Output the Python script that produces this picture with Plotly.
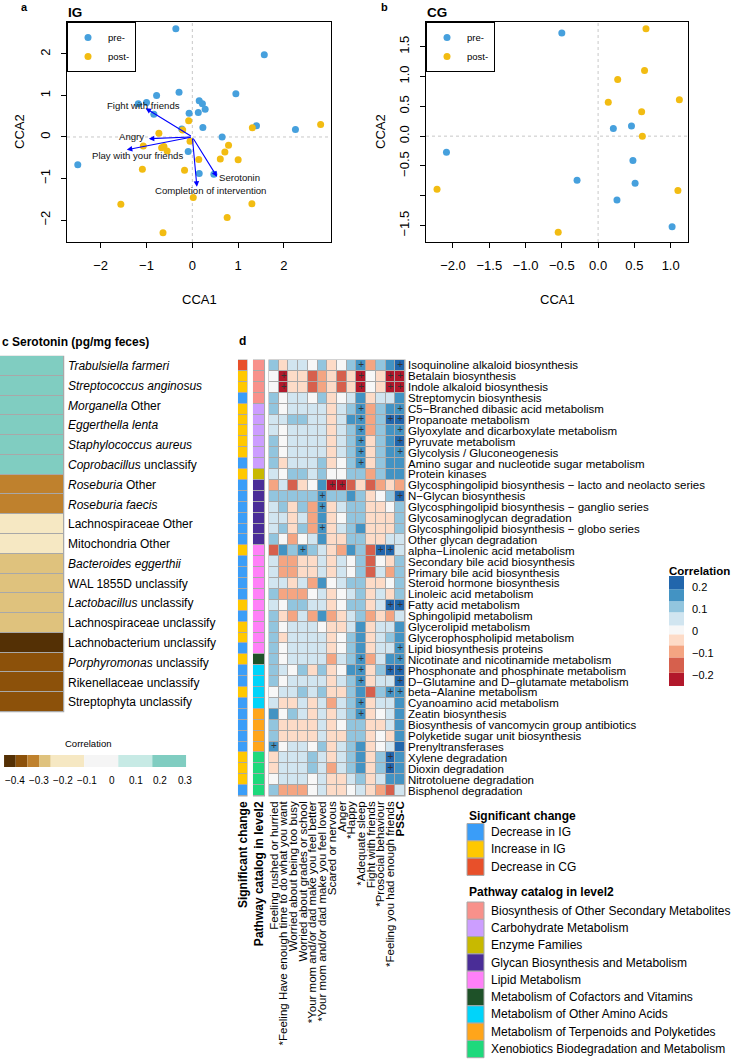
import plotly.graph_objects as go

W, H = 732, 1059
FONT = "Liberation Sans, Arial, Helvetica, sans-serif"


def px(x):
    return x / W


def py(y):
    return 1 - y / H


BLUE_PT = "#46A0DD"
GOLD_PT = "#F2BC12"

# ---------------- Panel a (IG) ----------------
ig_pre_x = [-1.67, -0.36, 1.57, -0.78, -0.29, -1.00, -1.18, -0.84, 0.15, 0.22, 0.28, -0.07,
            0.13, 0.23, 0.95, 1.40, 2.25, 0.65, -0.23, -0.09, 0.15, 0.47, -2.50]
ig_pre_y = [2.43, 2.61, 1.98, 1.00, 1.08, 0.83, 0.80, 0.55, 0.87, 0.80, 0.67, 0.57,
            0.59, 0.23, 1.04, 0.27, 0.18, 0.00, 0.19, -0.35, -0.88, -0.90, -0.67]
ig_post_x = [2.80, 1.31, -0.08, -0.21, -0.73, -1.07, -0.67, -0.62, -0.55, -0.05, 0.79, 0.71,
             0.14, 0.61, 1.00, -1.09, -0.17, 0.02, -1.56, 1.30, 0.76, -0.64]
ig_post_y = [0.30, 0.22, 0.39, 0.17, 0.09, -0.22, -0.26, -0.23, -0.34, -0.10, -0.20, -0.36,
             -0.54, -0.53, -0.55, -0.78, -0.80, -1.46, -1.62, -1.61, -1.94, -2.31]

env_names = ["Fight with friends", "Angry", "Play with your friends", "Serotonin",
             "Completion of intervention"]
env_x = [-1.02, -0.95, -1.43, 0.54, 0.10]
env_y = [0.69, -0.04, -0.31, -0.96, -1.20]
env_label_x = [-1.07, -1.32, -1.20, 1.04, 0.39]
env_label_y = [0.77, 0.02, -0.45, -0.98, -1.29]

# ---------------- Panel b (CG) ----------------
cg_pre_x = [-0.50, -1.97, -2.09, -0.29, 0.21, 0.46, 0.48, 0.51, 0.26, 1.02]
cg_pre_y = [1.73, 1.27, -0.27, -0.74, 0.13, 0.17, -0.41, -0.79, -1.07, -1.52]
cg_post_x = [0.66, 0.64, 0.27, 0.14, 1.12, 0.60, 0.61, -2.22, 1.10, -0.55]
cg_post_y = [1.80, 1.10, 0.95, 0.57, 0.61, 0.41, 0.00, -0.89, -0.91, -1.61]

# ---------------- Panel c ----------------
taxa = ["<i>Trabulsiella farmeri</i>", "<i>Streptococcus anginosus</i>", "<i>Morganella</i> Other",
        "<i>Eggerthella lenta</i>", "<i>Staphylococcus aureus</i>", "<i>Coprobacillus</i> unclassify",
        "<i>Roseburia</i> Other", "<i>Roseburia faecis</i>", "Lachnospiraceae Other",
        "Mitochondria Other", "<i>Bacteroides eggerthii</i>", "WAL 1855D unclassify",
        "<i>Lactobacillus</i> unclassify", "Lachnospiraceae unclassify", "Lachnobacterium unclassify",
        "<i>Porphyromonas</i> unclassify", "Rikenellaceae unclassify", "Streptophyta unclassify"]
sero_corr = [0.25, 0.24, 0.24, 0.23, 0.23, 0.22, -0.33, -0.32, -0.20, -0.19, -0.28, -0.27,
             -0.27, -0.26, -0.42, -0.37, -0.37, -0.36]
c_edges = [-0.443, -0.395, -0.347, -0.299, -0.251, -0.113, 0.027, 0.167, 0.306]
c_colors = ["#543005", "#8C510A", "#BF812D", "#DFC27D", "#F6E8C3", "#F5F5F5", "#C7EAE5", "#80CDC1"]
c_ticks = [-0.4, -0.3, -0.2, -0.1, 0, 0.1, 0.2, 0.3]
c_ticktext = ["−0.4", "−0.3", "−0.2", "−0.1", "0", "0.1", "0.2", "0.3"]

# ---------------- Panel d ----------------
pathways = ["Isoquinoline alkaloid biosynthesis", "Betalain biosynthesis", "Indole alkaloid biosynthesis",
            "Streptomycin biosynthesis", "C5−Branched dibasic acid metabolism", "Propanoate metabolism",
            "Glyoxylate and dicarboxylate metabolism", "Pyruvate metabolism",
            "Glycolysis / Gluconeogenesis", "Amino sugar and nucleotide sugar metabolism",
            "Protein kinases", "Glycosphingolipid biosynthesis − lacto and neolacto series",
            "N−Glycan biosynthesis", "Glycosphingolipid biosynthesis − ganglio series",
            "Glycosaminoglycan degradation", "Glycosphingolipid biosynthesis − globo series",
            "Other glycan degradation", "alpha−Linolenic acid metabolism",
            "Secondary bile acid biosynthesis", "Primary bile acid biosynthesis",
            "Steroid hormone biosynthesis", "Linoleic acid metabolism", "Fatty acid metabolism",
            "Sphingolipid metabolism", "Glycerolipid metabolism", "Glycerophospholipid metabolism",
            "Lipid biosynthesis proteins", "Nicotinate and nicotinamide metabolism",
            "Phosphonate and phosphinate metabolism", "D−Glutamine and D−glutamate metabolism",
            "beta−Alanine metabolism", "Cyanoamino acid metabolism", "Zeatin biosynthesis",
            "Biosynthesis of vancomycin group antibiotics", "Polyketide sugar unit biosynthesis",
            "Prenyltransferases", "Xylene degradation", "Dioxin degradation",
            "Nitrotoluene degradation", "Bisphenol degradation"]
variables = ["Feeling rushed or hurried", "*Feeling Have enough time to do what you want",
             "Worried about being too busy", "Worried about grades or school",
             "*Your mom and/or dad make you feel better", "*Your mom and/or dad make you feel loved",
             "Scared or nervous", "Anger", "*Happy", "*Adequate sleep", "Fight with friends",
             "*Prosocial behaviour", "*Feeling you had enough friends", "<b>PSS-C</b>"]
corr = [
    [0.11, -0.04, 0.05, 0.05, 0.00, 0.11, -0.04, 0.00, 0.11, 0.16, -0.09, 0.11, 0.16, 0.22],
    [0.00, -0.22, -0.04, -0.04, -0.15, -0.09, -0.04, -0.15, -0.04, -0.22, 0.00, -0.04, -0.22, -0.22],
    [0.00, -0.22, -0.04, -0.04, -0.15, -0.09, -0.04, -0.15, -0.03, -0.22, 0.00, -0.04, -0.22, -0.22],
    [0.11, 0.00, 0.05, 0.05, 0.00, 0.10, -0.04, 0.00, 0.05, 0.15, -0.04, 0.05, 0.06, 0.15],
    [0.10, 0.00, 0.05, 0.05, 0.05, 0.05, -0.04, 0.05, 0.10, 0.16, -0.08, 0.10, 0.15, 0.17],
    [0.06, 0.05, 0.10, 0.10, 0.05, 0.05, -0.04, 0.05, 0.15, 0.17, -0.08, 0.11, 0.21, 0.22],
    [0.05, 0.00, 0.05, 0.05, 0.05, 0.05, -0.04, 0.05, 0.11, 0.16, -0.08, 0.11, 0.16, 0.17],
    [0.10, 0.00, 0.05, 0.05, 0.05, 0.05, -0.04, 0.05, 0.11, 0.16, -0.05, 0.10, 0.16, 0.20],
    [0.10, 0.00, 0.05, 0.05, 0.05, 0.05, -0.04, 0.05, 0.11, 0.16, -0.05, 0.10, 0.16, 0.17],
    [0.10, -0.03, 0.05, 0.05, 0.05, 0.10, -0.04, 0.00, 0.10, 0.16, -0.04, 0.10, 0.15, 0.15],
    [0.05, 0.00, 0.10, 0.10, 0.05, 0.10, 0.00, 0.00, 0.10, 0.11, -0.08, 0.10, 0.16, 0.15],
    [-0.08, 0.05, -0.15, -0.04, 0.00, 0.15, -0.22, -0.22, -0.15, -0.04, -0.15, -0.09, -0.04, -0.08],
    [0.10, 0.10, 0.10, 0.10, 0.10, 0.16, 0.10, 0.10, 0.15, 0.11, -0.04, 0.00, 0.10, 0.21],
    [0.05, 0.10, -0.04, 0.10, -0.08, 0.16, -0.04, 0.05, 0.10, 0.11, -0.04, -0.04, 0.00, 0.10],
    [0.05, 0.05, -0.04, 0.05, -0.08, 0.15, -0.04, 0.00, 0.10, 0.10, -0.04, -0.04, -0.04, 0.10],
    [0.05, 0.10, -0.04, 0.10, -0.08, 0.16, -0.04, 0.05, 0.10, 0.15, -0.04, -0.04, -0.04, 0.10],
    [0.10, 0.00, -0.08, 0.00, 0.05, 0.15, -0.04, -0.04, 0.10, 0.10, -0.04, -0.04, 0.05, 0.05],
    [-0.15, 0.15, 0.10, 0.16, 0.10, 0.05, -0.04, -0.08, 0.15, 0.10, -0.15, 0.21, 0.21, 0.05],
    [0.05, -0.08, -0.08, -0.04, -0.04, 0.05, -0.04, 0.05, 0.00, 0.10, -0.15, 0.00, -0.04, 0.10],
    [0.05, -0.08, -0.08, -0.04, -0.04, 0.05, -0.04, 0.05, 0.00, 0.10, -0.15, 0.05, -0.08, 0.10],
    [0.05, 0.05, -0.04, 0.05, -0.08, 0.15, 0.00, 0.05, 0.10, 0.10, -0.04, -0.04, 0.00, 0.10],
    [0.10, -0.08, -0.08, -0.08, 0.00, 0.05, -0.04, 0.00, 0.05, 0.10, -0.04, 0.05, -0.04, 0.10],
    [0.05, 0.00, 0.10, 0.10, 0.05, 0.05, -0.04, 0.00, 0.10, 0.11, -0.04, 0.05, 0.21, 0.22],
    [0.10, -0.04, -0.08, 0.05, -0.08, 0.15, -0.08, -0.04, 0.05, 0.10, -0.08, -0.04, -0.08, 0.05],
    [0.10, 0.00, 0.05, 0.05, 0.05, 0.00, -0.04, -0.04, 0.05, 0.15, -0.04, 0.05, 0.05, 0.15],
    [0.10, -0.04, 0.05, 0.05, 0.05, 0.05, -0.04, 0.00, 0.10, 0.15, -0.04, 0.05, 0.10, 0.15],
    [0.10, 0.00, 0.05, 0.05, 0.05, 0.05, -0.04, 0.00, 0.10, 0.15, -0.04, 0.05, 0.05, 0.16],
    [0.10, 0.00, 0.05, 0.05, 0.05, 0.05, -0.08, 0.05, 0.10, 0.16, -0.08, 0.05, 0.15, 0.16],
    [0.10, 0.05, 0.00, 0.10, -0.04, 0.10, -0.04, 0.00, 0.15, 0.16, -0.04, 0.10, 0.21, 0.21],
    [0.10, 0.00, 0.05, 0.05, 0.05, 0.05, -0.04, 0.05, 0.10, 0.16, -0.04, 0.05, 0.05, 0.21],
    [0.00, 0.05, 0.05, 0.10, 0.05, 0.10, -0.04, -0.04, 0.10, 0.15, -0.15, 0.10, 0.16, 0.16],
    [0.05, -0.04, -0.04, 0.05, -0.04, 0.05, -0.08, 0.05, 0.10, 0.16, -0.04, 0.05, 0.05, 0.15],
    [0.15, 0.00, 0.10, 0.05, -0.04, 0.05, -0.04, 0.05, 0.10, 0.16, -0.04, 0.00, 0.05, 0.15],
    [0.10, -0.04, -0.04, -0.04, -0.04, 0.05, -0.04, 0.00, 0.10, 0.10, -0.04, -0.04, 0.05, 0.15],
    [0.10, -0.04, -0.04, -0.04, -0.04, 0.05, -0.04, -0.04, 0.10, 0.10, -0.04, 0.00, -0.04, 0.15],
    [0.16, 0.00, 0.05, 0.05, 0.00, 0.10, -0.04, 0.05, 0.10, 0.15, -0.04, 0.00, 0.05, 0.20],
    [-0.04, 0.05, 0.05, 0.05, 0.10, 0.05, -0.04, 0.05, 0.10, 0.15, -0.04, 0.10, 0.21, 0.15],
    [-0.04, 0.05, 0.05, 0.05, 0.10, 0.05, -0.08, 0.05, 0.10, 0.15, -0.04, 0.10, 0.21, 0.15],
    [0.00, 0.05, 0.05, 0.05, 0.00, 0.05, -0.04, -0.04, 0.05, 0.10, -0.04, 0.05, 0.15, 0.15],
    [0.10, -0.08, -0.08, -0.08, 0.00, 0.05, -0.04, -0.04, 0.00, 0.05, -0.04, -0.08, -0.15, 0.05],
]
plus_rows = [1, 1, 2, 2, 2, 2, 3, 3, 3, 3, 5, 5, 6, 6, 6, 7, 7, 8, 8, 9, 9, 10, 12, 12, 13, 13, 14,
             16, 18, 18, 18, 23, 23, 27, 28, 28, 29, 29, 29, 30, 30, 31, 31, 32, 33, 36, 37, 38]
plus_cols = [10, 14, 2, 10, 13, 14, 2, 10, 13, 14, 10, 14, 10, 13, 14, 10, 14, 10, 14, 10, 14, 10, 7, 8,
             6, 14, 6, 6, 4, 12, 13, 13, 14, 14, 10, 14, 10, 13, 14, 10, 14, 13, 14, 10, 10, 1, 13, 13]

d_edges = [-0.25, -0.19, -0.12, -0.065, -0.015, 0.025, 0.085, 0.135, 0.19, 0.25]
d_colors = ["#B2182B", "#D6604D", "#F4A582", "#FDDBC7", "#F7F7F7", "#D1E5F0", "#92C5DE", "#4393C3",
            "#2166AC"]
d_legend_ticks = [0.2, 0.1, 0.0, -0.1, -0.2]
d_legend_text = ["0.2", "0.1", "0", "−0.1", "−0.2"]

sig_levels = ["Decrease in IG", "Increase in IG", "Decrease in CG"]
sig_colors = ["#3A9DF8", "#FFC800", "#E8502A"]
sig_of_row = ["Decrease in CG", "Increase in IG", "Increase in IG", "Decrease in IG",
              "Increase in IG", "Increase in IG", "Increase in IG", "Increase in IG", "Increase in IG",
              "Decrease in IG", "Increase in IG", "Decrease in IG", "Decrease in IG", "Decrease in IG",
              "Decrease in IG", "Decrease in IG", "Decrease in IG", "Increase in IG", "Decrease in IG",
              "Decrease in IG", "Decrease in IG", "Decrease in IG", "Increase in IG", "Decrease in IG",
              "Increase in IG", "Increase in IG", "Decrease in IG", "Increase in IG", "Decrease in IG",
              "Decrease in IG", "Increase in IG", "Decrease in IG", "Decrease in IG", "Decrease in IG",
              "Decrease in IG", "Decrease in IG", "Increase in IG", "Increase in IG", "Increase in IG",
              "Decrease in IG"]
cat_levels = ["Biosynthesis of Other Secondary Metabolites", "Carbohydrate Metabolism", "Enzyme Families",
              "Glycan Biosynthesis and Metabolism", "Lipid Metabolism",
              "Metabolism of Cofactors and Vitamins", "Metabolism of Other Amino Acids",
              "Metabolism of Terpenoids and Polyketides", "Xenobiotics Biodegradation and Metabolism"]
cat_colors = ["#F8918B", "#CC9EFF", "#C8B900", "#4A2D97", "#FF80F8", "#1E5128", "#00D4FA", "#FFA51A",
              "#1ED97C"]
cat_of_row = (["Biosynthesis of Other Secondary Metabolites"] * 4 + ["Carbohydrate Metabolism"] * 6 +
              ["Enzyme Families"] + ["Glycan Biosynthesis and Metabolism"] * 6 +
              ["Lipid Metabolism"] * 10 + ["Metabolism of Cofactors and Vitamins"] +
              ["Metabolism of Other Amino Acids"] * 4 + ["Metabolism of Terpenoids and Polyketides"] * 4 +
              ["Xenobiotics Biodegradation and Metabolism"] * 4)


def step_scale(edges, colors):
    lo, hi = edges[0], edges[-1]
    cs = []
    for i in range(len(edges) - 1):
        cs.append([(edges[i] - lo) / (hi - lo), colors[i]])
        cs.append([(edges[i + 1] - lo) / (hi - lo), colors[i]])
    return cs


fig = go.Figure()

# --- scatter panels ---
fig.add_trace(go.Scatter(x=ig_pre_x, y=ig_pre_y, mode="markers", name="pre-", legend="legend",
                         marker=dict(color=BLUE_PT, size=7), xaxis="x", yaxis="y"))
fig.add_trace(go.Scatter(x=ig_post_x, y=ig_post_y, mode="markers", name="post-", legend="legend",
                         marker=dict(color=GOLD_PT, size=7), xaxis="x", yaxis="y"))
fig.add_trace(go.Scatter(x=cg_pre_x, y=cg_pre_y, mode="markers", name="pre-", legend="legend2",
                         marker=dict(color=BLUE_PT, size=7), xaxis="x2", yaxis="y2"))
fig.add_trace(go.Scatter(x=cg_post_x, y=cg_post_y, mode="markers", name="post-", legend="legend2",
                         marker=dict(color=GOLD_PT, size=7), xaxis="x2", yaxis="y2"))

# --- panel c heatmap ---
fig.add_trace(go.Heatmap(z=[[v] for v in sero_corr], x=["Serotonin"], y=taxa, xaxis="x4", yaxis="y4",
                         colorscale=step_scale(c_edges, c_colors),
                         zmin=c_edges[0], zmax=c_edges[-1], showscale=False, xgap=1, ygap=1,
                         hoverinfo="skip"))

# --- panel d heatmaps ---
fig.add_trace(go.Heatmap(z=[[sig_levels.index(s)] for s in sig_of_row], x=["<b>Significant change</b>"],
                         y=pathways, xaxis="x5", yaxis="y3",
                         colorscale=step_scale([-0.5, 0.5, 1.5, 2.5], sig_colors),
                         zmin=-0.5, zmax=2.5, showscale=False, xgap=1, ygap=1, hoverinfo="skip"))
fig.add_trace(go.Heatmap(z=[[cat_levels.index(c)] for c in cat_of_row],
                         x=["<b>Pathway catalog in level2</b>"], y=pathways, xaxis="x6", yaxis="y3",
                         colorscale=step_scale([i - 0.5 for i in range(len(cat_levels) + 1)], cat_colors),
                         zmin=-0.5, zmax=len(cat_levels) - 0.5, showscale=False, xgap=1, ygap=1,
                         hoverinfo="skip"))
fig.add_trace(go.Heatmap(z=corr, x=variables, y=pathways, xaxis="x3", yaxis="y3",
                         colorscale=step_scale(d_edges, d_colors), zmin=d_edges[0], zmax=d_edges[-1],
                         showscale=False, xgap=1, ygap=1, hoverinfo="skip"))
fig.add_trace(go.Scatter(x=[variables[c - 1] for c in plus_cols], y=[pathways[r - 1] for r in plus_rows],
                         mode="text", text=["+"] * len(plus_rows), xaxis="x3", yaxis="y3",
                         textfont=dict(size=10, color="#333333"), showlegend=False, hoverinfo="skip"))

shapes = []
annotations = []

box_axis = dict(showline=True, mirror=True, linecolor="black", linewidth=1, ticks="outside", ticklen=5,
                tickcolor="black", showgrid=False, zeroline=False, tickfont=dict(size=13),
                ticklabelstandoff=6)
cat_axis = dict(showgrid=False, zeroline=False, showline=False, ticks="", autorange=False)

n_rows, n_cols = len(pathways), len(variables)
LAB = 11.5

fig.update_layout(
    xaxis=dict(domain=[px(67), px(331)], range=[-2.735, 3.026], anchor="y",
               tickvals=[-2, -1, 0, 1, 2], ticktext=["−2", "−1", "0", "1", "2"], **box_axis),
    yaxis=dict(domain=[py(242), py(22)], range=[-2.53, 2.77], anchor="x", tickangle=-90,
               tickvals=[-2, -1, 0, 1, 2], ticktext=["−2", "−1", "0", "1", "2"], **box_axis),
    xaxis2=dict(domain=[px(426), px(688)], range=[-2.372, 1.239], anchor="y2",
                tickvals=[-2, -1.5, -1, -0.5, 0, 0.5, 1],
                ticktext=["−2.0", "−1.5", "−1.0", "−0.5", "0.0", "0.5", "1.0"], **box_axis),
    yaxis2=dict(domain=[py(242), py(22)], range=[-1.774, 1.913], anchor="x2", tickangle=-90,
                tickvals=[-1.5, -1, -0.5, 0, 0.5, 1, 1.5],
                ticktext=["−1.5", "", "−0.5", "0.0", "0.5", "1.0", "1.5"], **box_axis),
    xaxis3=dict(domain=[px(269), px(405)], anchor="y3", tickangle=-90, tickfont=dict(size=LAB),
                range=[-0.5, n_cols - 0.5], tickmode="array", tickvals=variables, ticktext=variables,
                ticklabelstandoff=2, **cat_axis),
    yaxis3=dict(domain=[py(796), py(360)], anchor="x3", side="right", range=[n_rows - 0.5, -0.5],
                tickmode="array", tickvals=pathways, ticktext=pathways,
                tickfont=dict(size=LAB), ticklabelstandoff=2, **cat_axis),
    xaxis4=dict(domain=[0, px(64)], anchor="y4", showticklabels=False, range=[-0.5, 0.5], **cat_axis),
    yaxis4=dict(domain=[py(712), py(356)], anchor="x4", side="right", range=[len(taxa) - 0.5, -0.5],
                tickmode="array", tickvals=taxa, ticktext=taxa,
                tickfont=dict(size=12), ticklabelstandoff=3, **cat_axis),
    xaxis5=dict(domain=[px(238), px(247.5)], anchor="y3", tickangle=-90, tickfont=dict(size=12),
                range=[-0.5, 0.5], ticklabelstandoff=2, **cat_axis),
    xaxis6=dict(domain=[px(253), px(265)], anchor="y3", tickangle=-90, tickfont=dict(size=12),
                range=[-0.5, 0.5], ticklabelstandoff=2, **cat_axis),
)

# dotted zero lines
for xr, yr in [("x", "y"), ("x2", "y2")]:
    shapes.append(dict(type="line", xref=xr, yref=yr + " domain", x0=0, x1=0, y0=0, y1=1,
                       line=dict(color="#C8C8C8", width=1, dash="dot"), layer="below"))
    shapes.append(dict(type="line", xref=xr + " domain", yref=yr, x0=0, x1=1, y0=0, y1=0,
                       line=dict(color="#C8C8C8", width=1, dash="dot"), layer="below"))

# gray grid behind heatmaps
for xr, yr in [("x3", "y3"), ("x4", "y4"), ("x5", "y3"), ("x6", "y3")]:
    shapes.append(dict(type="rect", xref=xr + " domain", yref=yr + " domain", x0=-0.004, x1=1.004,
                       y0=-0.001, y1=1.001, fillcolor="#A8A8A8", line=dict(width=0), layer="below"))

# arrows panel a
for ex, ey in zip(env_x, env_y):
    annotations.append(dict(x=ex, y=ey, ax=0, ay=0, xref="x", yref="y", axref="x", ayref="y", text="",
                            showarrow=True, arrowhead=2, arrowsize=1, arrowwidth=1.1,
                            arrowcolor="#0000FF"))
for name, lx, ly in zip(env_names, env_label_x, env_label_y):
    annotations.append(dict(x=lx, y=ly, xref="x", yref="y", text=name, showarrow=False,
                            font=dict(size=9.6, color="#111111")))


def txt(x, y, text, size=11, xanchor="center", yanchor="middle", angle=0, color="black"):
    annotations.append(dict(x=px(x), y=py(y), xref="paper", yref="paper", text=text, showarrow=False,
                            xanchor=xanchor, yanchor=yanchor, textangle=angle,
                            font=dict(size=size, color=color)))


txt(24, 7, "<b>a</b>", 11)
txt(384, 7, "<b>b</b>", 11)
txt(66, 13, "<b>IG</b>", 13.5, xanchor="left")
txt(425, 13, "<b>CG</b>", 13.5, xanchor="left")
txt(199, 299, "CCA1", 13)
txt(557, 299, "CCA1", 13)
txt(20, 132, "CCA2", 13, angle=-90)
txt(381, 132, "CCA2", 13, angle=-90)
txt(0, 342, "<b>c Serotonin (pg/mg feces)</b>", 12, xanchor="left")
txt(237, 341, "<b>d</b>", 12, xanchor="left")

# panel c colour legend
c_leg_top, c_leg_bot = 755, 767


def cx(v):
    return 111.7 + v * 243


for i in range(len(c_edges) - 1):
    shapes.append(dict(type="rect", xref="paper", yref="paper", x0=px(cx(c_edges[i])),
                       x1=px(cx(c_edges[i + 1])), y0=py(c_leg_bot), y1=py(c_leg_top),
                       fillcolor=c_colors[i], line=dict(width=0)))
txt(88, 743, "Correlation", 9.5)
for v, t in zip(c_ticks, c_ticktext):
    txt(cx(v), 780, t, 10)

# panel d colour legend
d_leg_x0, d_leg_x1 = 669, 684


def dy(v):
    return 587 + (0.2 - v) * 220


txt(667, 571, "<b>Correlation</b>", 11.5, xanchor="left")
for i in range(len(d_edges) - 1):
    shapes.append(dict(type="rect", xref="paper", yref="paper", x0=px(d_leg_x0), x1=px(d_leg_x1),
                       y0=py(dy(d_edges[i])), y1=py(dy(d_edges[i + 1])), fillcolor=d_colors[i],
                       line=dict(width=0)))
for v, t in zip(d_legend_ticks, d_legend_text):
    txt(690, dy(v), t, 11, xanchor="left")

# significant change & pathway legends
item_h = 17.3
txt(467, 816, "<b>Significant change</b>", 12, xanchor="left")
for i, (lab, col) in enumerate(zip(sig_levels, sig_colors)):
    top = 823.5 + item_h * i
    shapes.append(dict(type="rect", xref="paper", yref="paper", x0=px(467), x1=px(484),
                       y0=py(top + item_h), y1=py(top), fillcolor=col,
                       line=dict(color="#A8A8A8", width=1)))
    txt(489, top + item_h / 2, lab, 12, xanchor="left")
txt(467, 892, "<b>Pathway catalog in level2</b>", 12, xanchor="left")
for i, (lab, col) in enumerate(zip(cat_levels, cat_colors)):
    top = 902 + item_h * i
    shapes.append(dict(type="rect", xref="paper", yref="paper", x0=px(467), x1=px(484),
                       y0=py(top + item_h), y1=py(top), fillcolor=col,
                       line=dict(color="#A8A8A8", width=1)))
    txt(489, top + item_h / 2, lab, 12, xanchor="left")

legend_style = dict(xref="paper", yref="paper", xanchor="left", yanchor="top", bgcolor="white",
                    bordercolor="black", borderwidth=1, font=dict(size=9.5), itemwidth=30,
                    tracegroupgap=0, itemsizing="trace")

fig.update_layout(
    width=W, height=H, margin=dict(l=0, r=0, t=0, b=0), template="none",
    paper_bgcolor="white", plot_bgcolor="white",
    font=dict(family=FONT, color="black"),
    shapes=shapes, annotations=annotations, showlegend=True,
    legend=dict(x=px(67), y=py(22), **legend_style),
    legend2=dict(x=px(426), y=py(22), **legend_style),
)

fig.write_html("out.html", config={"displayModeBar": False},
               post_script="document.body.style.margin='0';")
